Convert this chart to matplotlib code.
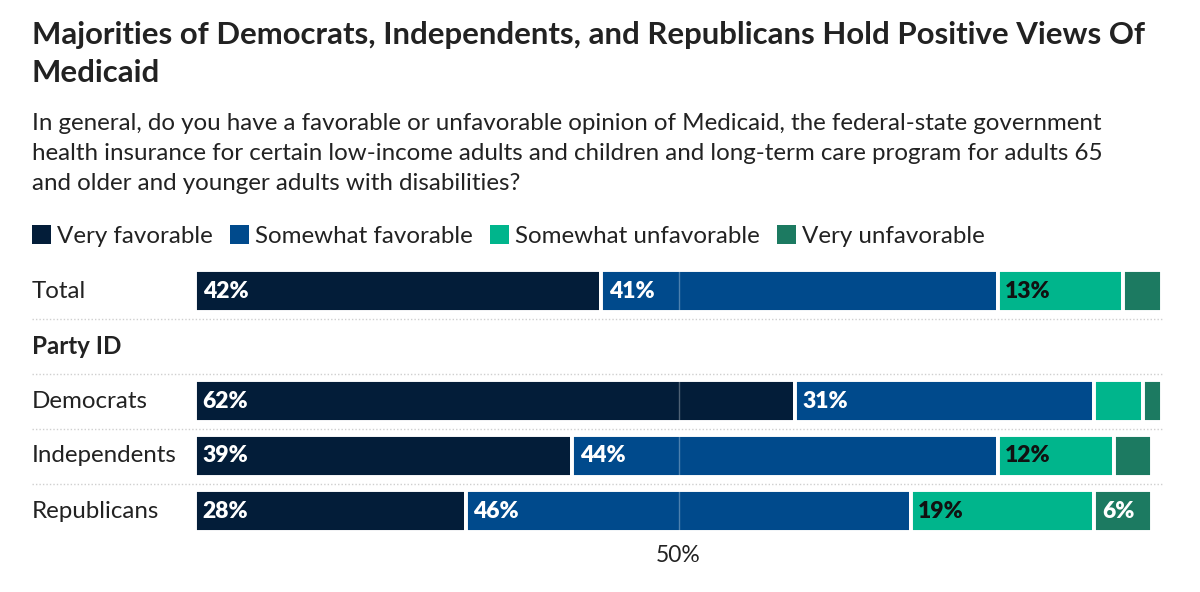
import matplotlib.pyplot as plt
import matplotlib.transforms as mtransforms
from matplotlib.patches import Patch

plt.rcParams['font.family'] = ['Lato', 'DejaVu Sans']

# data
rows = ["Total", "Party ID", "Democrats", "Independents", "Republicans"]
series = ["Very favorable", "Somewhat favorable", "Somewhat unfavorable", "Very unfavorable"]
very_fav = [42, None, 62, 39, 28]
some_fav = [41, None, 31, 44, 46]
some_unfav = [13, None, 5, 12, 19]
very_unfav = [4, None, 2, 4, 6]
colors = ["#031d39", "#004a8c", "#00b58c", "#1c7a61"]
label_colors = ["white", "white", "#111111", "white"]

TXT = "#222222"

fig = plt.figure(figsize=(12, 5.92), dpi=100)

fig.text(32/1200, 1-35/592, "Majorities of Democrats, Independents, and Republicans Hold Positive Views Of",
         fontsize=22.4, fontweight="bold", color=TXT, va="center")
fig.text(32/1200, 1-73/592, "Medicaid", fontsize=22.4, fontweight="bold", color=TXT, va="center")
sub = ["In general, do you have a favorable or unfavorable opinion of Medicaid, the federal-state government",
       "health insurance for certain low-income adults and children and long-term care program for adults 65",
       "and older and younger adults with disabilities?"]
for i, s in enumerate(sub):
    fig.text(32/1200, 1-(123+30.5*i)/592, s, fontsize=17.4, color=TXT, va="center")

ax = fig.add_axes([195/1200, 1-538.5/592, 967/1200, 275/592])
all_vals = [very_fav, some_fav, some_unfav, very_unfav]
for r in range(len(rows)):
    if very_fav[r] is None:
        continue
    left = 0
    for k in range(4):
        v = all_vals[k][r]
        ax.barh(r, v, left=left, height=0.78, color=colors[k], edgecolor="white", linewidth=2.8)
        if v >= 6:
            ax.text(left + 0.8, r, f"{v}%", color=label_colors[k], fontsize=16.5, fontweight="heavy",
                    va="center", ha="left")
        left += v

ax.axvline(50, color="white", alpha=0.3, lw=1)
ax.set_xlim(0, 100)
ax.set_ylim(len(rows) - 0.5, -0.5)
for sp in ax.spines.values():
    sp.set_visible(False)
ax.set_yticks([])
ax.set_xticks([50])
ax.set_xticklabels(["50%"], fontsize=16.5, color=TXT)
ax.tick_params(axis="x", length=0, pad=5)

trans = mtransforms.blended_transform_factory(fig.transFigure, ax.transData)
for r, name in enumerate(rows):
    ax.text(32/1200, r, name, transform=trans, fontsize=17.4, color=TXT, va="center",
            fontweight="bold" if very_fav[r] is None else "normal")
for r in range(len(rows) - 1):
    ax.plot([32/1200, 1162/1200], [r + 0.5, r + 0.5], transform=trans, color="#cfcfcf",
            lw=1, ls=(0, (1, 1.5)), clip_on=False)

handles = [Patch(facecolor=c, edgecolor="none") for c in colors]
fig.legend(handles, series, loc="center left", bbox_to_anchor=(22/1200, 1-236/592), ncol=4,
           frameon=False, fontsize=17.4, handlelength=0.8, handleheight=0.8, handletextpad=0.25,
           columnspacing=0.7, labelcolor=TXT, borderaxespad=0)

fig.savefig("out.png", dpi=100)
